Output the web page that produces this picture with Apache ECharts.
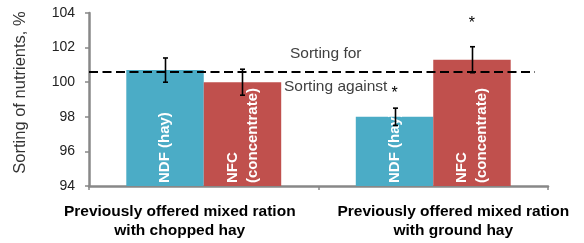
<!DOCTYPE html>
<html>
<head>
<meta charset="utf-8">
<script src="https://cdn.jsdelivr.net/npm/echarts@6/dist/echarts.min.js"></script>
<style>
  html, body { margin: 0; padding: 0; background: #fff; }
  #chart { width: 584px; height: 243px; }
</style>
</head>
<body>
<div id="chart"></div>
<script>
const categories = [
  'Previously offered mixed ration\nwith chopped hay',
  'Previously offered mixed ration\nwith ground hay'
]
const ndfValues = [100.7, 98.0]
const ndfErrors = [0.7, 0.5]
const nfcValues = [100.0, 101.3]
const nfcErrors = [0.75, 0.75]
const ndfStars = [null, 99.6]
const nfcStars = [null, 103.6]
const referenceLine = 100.6

const teal = '#4BACC6'
const red = '#C0504D'
const gapPct = 0.325
const font = '"Liberation Sans", Arial, sans-serif'

const chart = echarts.init(document.getElementById('chart'))

// error bars: offset left/right of category centre
const errorSeries = (values, errors, side) => ({
  type: 'custom',
  z: 5,
  silent: true,
  data: values.map((v, i) => [i, v, errors[i]]),
  renderItem: (params, api) => {
    const band = api.size([1, 0])[0]
    const dx = side * band * (1 - gapPct) / 4
    const top = api.coord([api.value(0), api.value(1) + api.value(2)])
    const bot = api.coord([api.value(0), api.value(1) - api.value(2)])
    const x = Math.round(top[0] + dx) + 0.5
    const style = { stroke: '#000', lineWidth: 1.6 }
    return {
      type: 'group',
      children: [
        { type: 'line', shape: { x1: x, y1: top[1], x2: x, y2: bot[1] }, style },
        { type: 'line', shape: { x1: x - 2.5, y1: top[1], x2: x + 2.5, y2: top[1] }, style },
        { type: 'line', shape: { x1: x - 2.5, y1: bot[1], x2: x + 2.5, y2: bot[1] }, style },
      ],
    }
  },
})

const starSeries = (stars, side) => ({
  type: 'custom',
  z: 6,
  silent: true,
  data: stars.map((v, i) => [i, v]).filter((d) => d[1] != null),
  renderItem: (params, api) => {
    const band = api.size([1, 0])[0]
    const dx = side * band * (1 - gapPct) / 4
    const p = api.coord([api.value(0), api.value(1)])
    return {
      type: 'text',
      x: p[0] + dx,
      y: p[1] + 4,
      style: {
        text: '*',
        fill: '#000',
        font: '16px ' + font,
        align: 'center',
        verticalAlign: 'middle',
      },
    }
  },
})

const barLabel = {
  show: true,
  position: 'insideBottom',
  rotate: 90,
  align: 'left',
  verticalAlign: 'middle',
  distance: 3,
  color: '#fff',
  fontWeight: 'bold',
  fontSize: 15,
  lineHeight: 20,
  fontFamily: font,
}

const catText = {
  color: '#000',
  fontWeight: 'bold',
  fontSize: 15.5,
  lineHeight: 19,
  fontFamily: font,
}

const option = {
  animation: false,
  grid: { left: 89, right: 36, top: 13, bottom: 57 },
  xAxis: {
    type: 'category',
    data: categories,
    axisLine: { lineStyle: { color: '#888', width: 2.5 } },
    axisTick: { show: true, length: 4, lineStyle: { color: '#888', width: 1.5 } },
    axisLabel: {
      interval: 0,
      margin: 16,
      ...catText,
      // first label sits left of its category, second one right of it
      formatter: (value, index) =>
        value.split('\n').map((s) => `{${index === 0 ? 'l' : 'r'}|${s}}`).join('\n'),
      rich: {
        l: { ...catText, padding: [0, 48, 0, 0] },
        r: { ...catText, padding: [0, 0, 0, 40] },
      },
    },
  },
  yAxis: {
    type: 'value',
    min: 94,
    max: 104,
    interval: 2,
    name: 'Sorting of nutrients, %',
    nameLocation: 'middle',
    nameGap: 60,
    nameTextStyle: {
      color: '#333',
      fontSize: 16.5,
      padding: [0, 0, 0, 14],
      fontFamily: font,
    },
    axisLine: { show: true, lineStyle: { color: '#888', width: 2.5 } },
    axisTick: { show: true, length: 4, lineStyle: { color: '#888', width: 1.5 } },
    axisLabel: {
      color: '#222',
      fontSize: 14,
      margin: 14,
      fontFamily: font,
    },
    splitLine: { show: false },
  },
  series: [
    {
      name: 'NDF',
      type: 'bar',
      data: ndfValues,
      barGap: '0%',
      barCategoryGap: '32.5%',
      itemStyle: { color: teal },
      label: { ...barLabel, formatter: 'NDF (hay)' },
    },
    {
      name: 'NFC',
      type: 'bar',
      data: nfcValues,
      barGap: '0%',
      barCategoryGap: '32.5%',
      itemStyle: { color: red },
      label: { ...barLabel, formatter: 'NFC\n(concentrate)' },
    },
    errorSeries(ndfValues, ndfErrors, -1),
    errorSeries(nfcValues, nfcErrors, 1),
    starSeries(ndfStars, -1),
    starSeries(nfcStars, 1),
  ],
}

chart.setOption(option)

// dashed reference line (stops short of the axis end) and its two captions
const lineY = chart.convertToPixel({ yAxisIndex: 0 }, referenceLine)
chart.setOption({
  series: [{
    name: 'NDF',
    markLine: {
      silent: true,
      symbol: 'none',
      label: { show: false },
      lineStyle: { color: '#000', type: [9, 4.5], width: 2 },
      data: [[{ x: 89, y: lineY }, { x: 535, y: lineY }]],
      z: 4,
    },
  }],
  graphic: [
    {
      type: 'text',
      left: 290,
      top: lineY - 26,
      style: { text: 'Sorting for', fill: '#404040', font: '15.5px ' + font },
    },
    {
      type: 'text',
      left: 284,
      top: lineY + 7,
      style: { text: 'Sorting against', fill: '#404040', font: '15.5px ' + font },
    },
  ],
})
</script>
</body>
</html>
